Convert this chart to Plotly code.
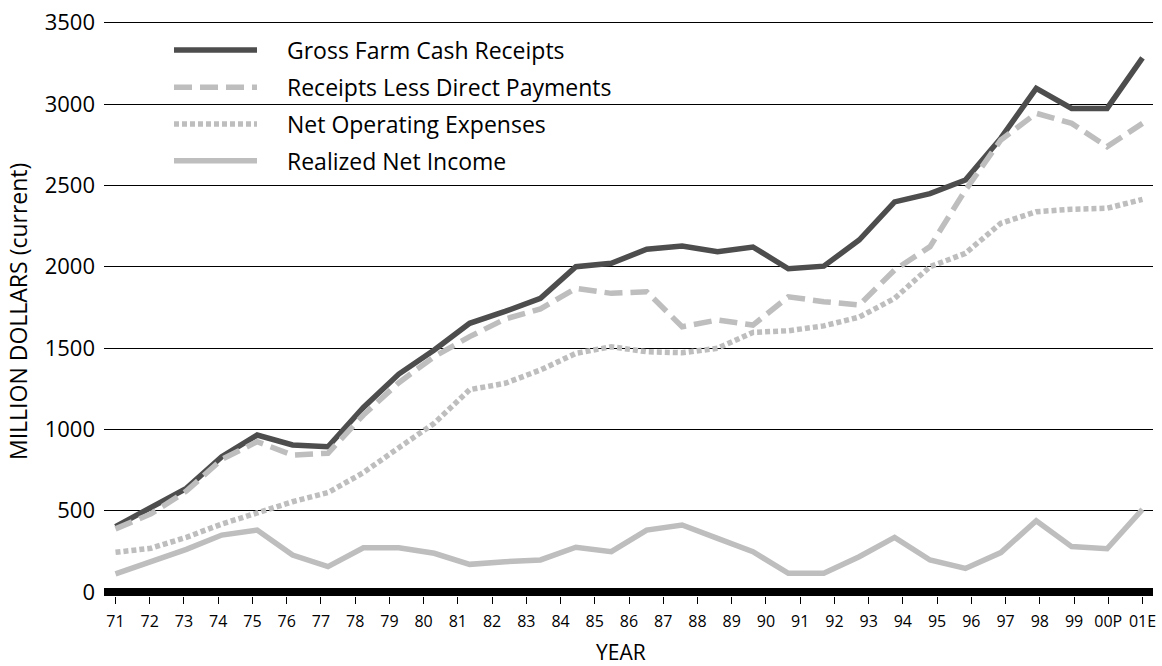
import plotly.graph_objects as go

# ---- data (million dollars, current) ----
years = ["71", "72", "73", "74", "75", "76", "77", "78", "79", "80",
         "81", "82", "83", "84", "85", "86", "87", "88", "89", "90",
         "91", "92", "93", "94", "95", "96", "97", "98", "99", "00P", "01E"]

# the source chart's series are 30 evenly spaced observations across the 71-01E axis
gross = [402, 515, 637, 832, 965, 904, 893, 1135, 1340, 1488,
         1652, 1725, 1805, 2000, 2021, 2107, 2127, 2092, 2121, 1987,
         2003, 2164, 2398, 2449, 2533, 2790, 3096, 2973, 2973, 3284]
receipts_less = [388, 480, 620, 815, 924, 842, 853, 1088, 1287, 1447,
                 1570, 1678, 1740, 1867, 1836, 1846, 1631, 1672, 1641, 1815,
                 1785, 1764, 1980, 2123, 2471, 2779, 2943, 2881, 2738, 2881]
net_operating = [244, 269, 336, 418, 486, 555, 611, 734, 887, 1037,
                 1244, 1283, 1365, 1467, 1508, 1477, 1471, 1498, 1596, 1606,
                 1636, 1690, 1805, 2000, 2082, 2267, 2338, 2353, 2359, 2414]
realized = [111, 186, 262, 350, 381, 227, 156, 272, 272, 238,
            170, 186, 197, 275, 248, 381, 412, 330, 248, 115,
            115, 217, 336, 197, 145, 242, 438, 279, 266, 508]

y_ticks = [0, 500, 1000, 1500, 2000, 2500, 3000, 3500]

names = ["Gross Farm Cash Receipts", "Receipts Less Direct Payments",
         "Net Operating Expenses", "Realized Net Income"]

# ---- styles ----
DARK = "#4d4d4d"
LIGHT = "#bebebe"
FONT = "Open Sans"
styles = [
    dict(color=DARK, width=5.5, dash="solid"),
    dict(color=LIGHT, width=5.5, dash="18px,8px"),
    dict(color=LIGHT, width=5.5, dash="5px,3px"),
    dict(color=LIGHT, width=5.5, dash="solid"),
]

obs = list(range(len(gross)))
n_obs = len(gross)
tick_pos = [i * (n_obs - 1) / (len(years) - 1) for i in range(len(years))]

fig = go.Figure()
for name, vals, st in zip(names, [gross, receipts_less, net_operating, realized], styles):
    fig.add_trace(go.Scatter(x=obs, y=vals, mode="lines", name=name,
                             line=st, showlegend=False, hoverinfo="skip"))

# plot-area geometry (pixels)
W, H = 1162, 666
ML, MR, MT, MB = 104, 9, 6, 70
PW, PH = W - ML - MR, H - MT - MB

def px_x(px):
    return (px - ML) / PW

def px_y(py):
    return (H - MB - py) / PH

# custom legend (long line samples like the original)
rows = [50, 87.3, 124, 160.7]
for name, st, ry in zip(names, styles, rows):
    fig.add_shape(type="line", xref="paper", yref="paper",
                  x0=px_x(174), x1=px_x(257), y0=px_y(ry), y1=px_y(ry),
                  line=dict(color=st["color"], width=st["width"], dash=st["dash"]))
    fig.add_annotation(xref="paper", yref="paper", x=px_x(285), y=px_y(ry),
                       xanchor="left", yanchor="middle", text=name, showarrow=False,
                       font=dict(family=FONT, size=23, color="#000"))

# axis titles
fig.add_annotation(xref="paper", yref="paper", x=px_x(18), y=px_y(312),
                   text="MILLION DOLLARS (current)", textangle=-90, showarrow=False,
                   xanchor="center", yanchor="middle",
                   font=dict(family=FONT, size=23, color="#000"))
fig.add_annotation(xref="paper", yref="paper", x=px_x(621), y=px_y(652),
                   text="YEAR", showarrow=False, xanchor="center", yanchor="middle",
                   font=dict(family=FONT, size=21, color="#000"))

fig.update_layout(
    width=W, height=H,
    margin=dict(l=ML, r=MR, t=MT, b=MB, pad=0),
    paper_bgcolor="white", plot_bgcolor="white",
    font=dict(family=FONT, color="#000"),
    showlegend=False,
    xaxis=dict(range=[-0.325, 29.297], tickmode="array", tickvals=tick_pos,
               ticktext=years, showgrid=False, zeroline=False, showline=False,
               ticks="outside", ticklen=7, tickwidth=1.3, tickcolor="#000",
               tickfont=dict(family=FONT, size=16, color="#000"),
               ticklabelstandoff=4, fixedrange=True),
    yaxis=dict(range=[-24.6, 3602.6], tickmode="array", tickvals=y_ticks,
               showgrid=True, gridcolor="#000", gridwidth=1,
               zeroline=True, zerolinecolor="#000", zerolinewidth=8,
               showline=False, ticks="",
               tickfont=dict(family=FONT, size=22, color="#000"),
               ticklabelstandoff=8, fixedrange=True),
)

fig.write_html("out.html", config={"displayModeBar": False},
               post_script="document.body.style.margin='0';document.body.style.overflow='hidden';")
